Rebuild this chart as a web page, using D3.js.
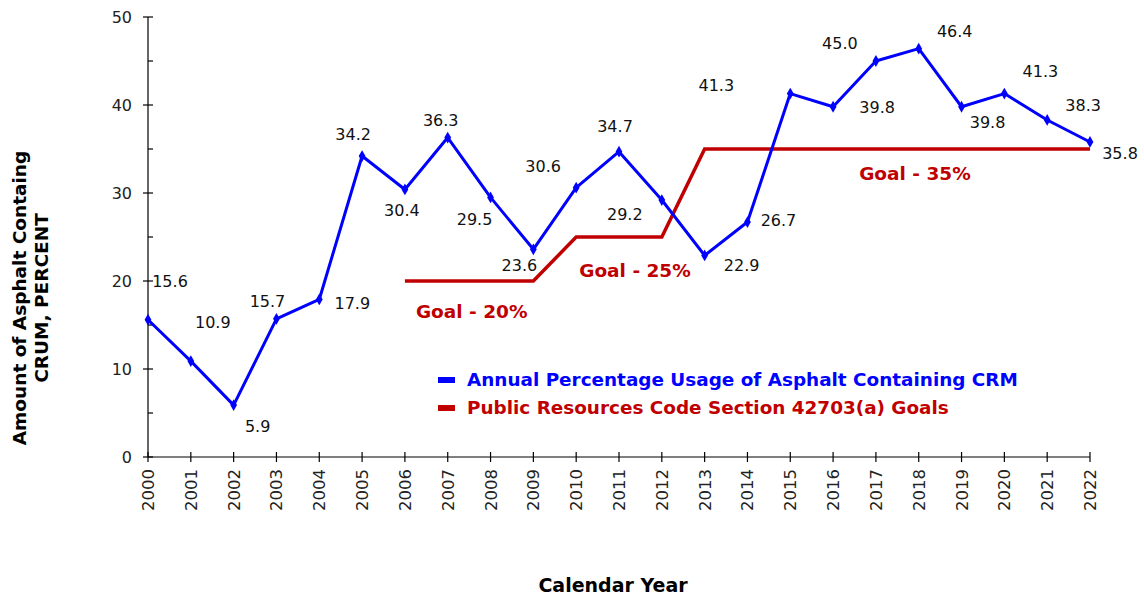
<!DOCTYPE html>
<html>
<head>
<meta charset="utf-8">
<script src="https://cdn.jsdelivr.net/npm/d3@7"></script>
<style>
  body { margin: 0; background: #fff; }
  svg text { font-family: "DejaVu Sans", sans-serif; }
</style>
</head>
<body>
<svg id="chart" width="1144" height="596"></svg>
<script>
// data
const years = d3.range(2000, 2023).map(String);
const usage = [15.6, 10.9, 5.9, 15.7, 17.9, 34.2, 30.4, 36.3, 29.5, 23.6, 30.6, 34.7,
               29.2, 22.9, 26.7, 41.3, 39.8, 45.0, 46.4, 39.8, 41.3, 38.3, 35.8];
const goalYears = d3.range(2006, 2023).map(String);
const goals = [20, 20, 20, 20, 25, 25, 25, 35, 35, 35, 35, 35, 35, 35, 35, 35, 35];
const goalLabels = ["Goal - 20%", "Goal - 25%", "Goal - 35%"];
const yTicks = [0, 10, 20, 30, 40, 50];
const seriesNames = ["Annual Percentage Usage of Asphalt Containing CRM",
                     "Public Resources Code Section 42703(a) Goals"];

// where each value label sits relative to its point (dx, dy)
const labelOffsets = [[22, -38], [22, -39], [24, 21], [-9, -17], [33, 4], [-9, -22],
  [-3, 21], [-7, -17], [-16, 22], [-14, 16], [-33, -21], [-4, -25], [-37, 14],
  [37, 10], [31, -2], [-74, -8], [44, 1], [-36, -18], [36, -17], [26, 16],
  [36, -22], [36, -15], [30, 11]];

const blue = "#0000ff";
const red = "#c00000";

const svg = d3.select("#chart");
const margin = { top: 17, left: 148, right: 54, bottom: 139 };
const width = 1144, height = 596;

const x = d3.scalePoint().domain(years).range([margin.left, width - margin.right]);
const y = d3.scaleLinear().domain([0, 50]).range([height - margin.bottom, margin.top]);

// axes
const gx = svg.append("g").attr("transform", `translate(0,${y(0)})`);
gx.append("line").attr("x1", x.range()[0]).attr("x2", x.range()[1])
  .attr("stroke", "#000").attr("stroke-width", 1.2);
gx.selectAll(".xt").data(years).join("line")
  .attr("x1", d => x(d)).attr("x2", d => x(d)).attr("y1", -5).attr("y2", 5)
  .attr("stroke", "#000").attr("stroke-width", 1.2);
gx.selectAll(".xl").data(years).join("text")
  .attr("transform", d => `translate(${x(d) + 6},12) rotate(-90)`)
  .attr("text-anchor", "end")
  .attr("font-size", 16.5).attr("fill", "#222")
  .text(d => d);

const gy = svg.append("g").attr("transform", `translate(${margin.left},0)`);
gy.append("line").attr("y1", y(0)).attr("y2", y(50))
  .attr("stroke", "#000").attr("stroke-width", 1.2);
gy.selectAll(".yt").data(yTicks).join("line")
  .attr("x1", -5).attr("x2", 5).attr("y1", d => y(d)).attr("y2", d => y(d))
  .attr("stroke", "#000").attr("stroke-width", 1.2);
gy.selectAll(".ym").data(d3.range(5, 50, 10)).join("line")
  .attr("x1", 0).attr("x2", 5).attr("y1", d => y(d)).attr("y2", d => y(d))
  .attr("stroke", "#000").attr("stroke-width", 1.2);
gy.selectAll(".yl").data(yTicks).join("text")
  .attr("x", -16).attr("y", d => y(d)).attr("dy", "0.35em")
  .attr("text-anchor", "end").attr("font-size", 16).attr("fill", "#222")
  .text(d => d);

// goal step line
svg.append("path")
  .datum(goalYears.map((g, i) => [g, goals[i]]))
  .attr("fill", "none").attr("stroke", red).attr("stroke-width", 3.5)
  .attr("d", d3.line().x(d => x(d[0])).y(d => y(d[1])));

// usage line
const usageData = years.map((yr, i) => [yr, usage[i]]);
svg.append("path")
  .datum(usageData)
  .attr("fill", "none").attr("stroke", blue).attr("stroke-width", 3)
  .attr("stroke-linejoin", "round")
  .attr("d", d3.line().x(d => x(d[0])).y(d => y(d[1])));

svg.selectAll(".mk").data(usageData).join("path")
  .attr("transform", d => `translate(${x(d[0])},${y(d[1])})`)
  .attr("d", d3.symbol(d3.symbolDiamond, 40))
  .attr("fill", blue);

svg.selectAll(".vl").data(usageData).join("text")
  .attr("x", (d, i) => x(d[0]) + labelOffsets[i][0])
  .attr("y", (d, i) => y(d[1]) + labelOffsets[i][1])
  .attr("dy", "0.35em").attr("text-anchor", "middle")
  .attr("font-size", 16).attr("fill", "#111")
  .text(d => d[1].toFixed(1));

// goal labels
const goalLabelAt = [["2007", 20, 24, 31], ["2011", 25, 16, 34], ["2017", 35, 39, 25]];
svg.selectAll(".gl").data(goalLabels).join("text")
  .attr("x", (d, i) => x(goalLabelAt[i][0]) + goalLabelAt[i][2])
  .attr("y", (d, i) => y(goalLabelAt[i][1]) + goalLabelAt[i][3])
  .attr("dy", "0.35em").attr("text-anchor", "middle")
  .attr("font-size", 18.5).attr("font-weight", "bold").attr("fill", red)
  .text(d => d);

// legend
const legend = svg.append("g").attr("transform", "translate(438,380)");
const lg = legend.selectAll("g").data(seriesNames).join("g")
  .attr("transform", (d, i) => `translate(0,${i * 28})`);
lg.append("rect").attr("x", 0).attr("y", -3).attr("width", 17).attr("height", 6)
  .attr("fill", (d, i) => i === 0 ? blue : red);
lg.append("text").attr("x", 29).attr("dy", "0.35em")
  .attr("font-size", 18.4).attr("font-weight", "bold")
  .attr("fill", (d, i) => i === 0 ? blue : red)
  .text(d => d);

// axis titles
svg.append("text")
  .attr("x", (x.range()[0] + x.range()[1]) / 2 - 6).attr("y", 585)
  .attr("dy", "0.35em").attr("text-anchor", "middle")
  .attr("font-size", 19).attr("font-weight", "bold").attr("fill", "#000")
  .text("Calendar Year");

const yTitle = svg.append("text")
  .attr("transform", "translate(0,298) rotate(-90)")
  .attr("text-anchor", "middle")
  .attr("font-size", 18.5).attr("font-weight", "bold").attr("fill", "#000");
yTitle.append("tspan").attr("x", 0).attr("y", 26).text("Amount of Asphalt Containg");
yTitle.append("tspan").attr("x", 0).attr("y", 48).text("CRUM, PERCENT");
</script>
</body>
</html>
